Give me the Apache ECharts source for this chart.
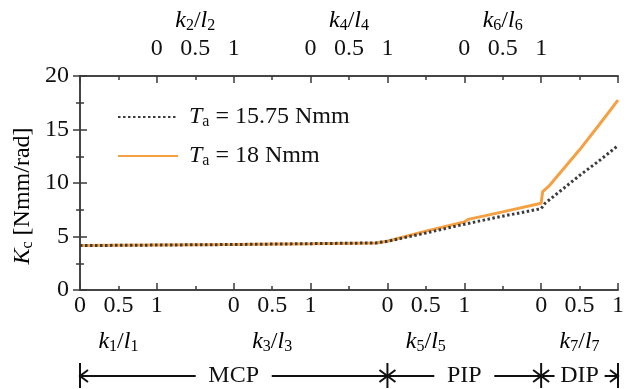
<!DOCTYPE html>
<html>
<head>
<meta charset="utf-8">
<script src="https://cdn.jsdelivr.net/npm/echarts@6/dist/echarts.min.js"></script>
<style>
  html, body { margin: 0; padding: 0; background: #fff; }
  #chart { width: 627px; height: 389px; }
</style>
</head>
<body>
<div id="chart"></div>
<script>
// data: x is the stacked normalized position k/l (0-7), y is Kc [Nmm/rad]
const xDotted = [0, 1, 2, 3, 3.85, 4, 4.5, 5, 5.5, 6, 6.05, 6.5, 6.75, 7];
const yDotted = [4.15, 4.2, 4.25, 4.33, 4.4, 4.55, 5.33, 6.15, 6.9, 7.6, 8.1, 10.7, 12.05, 13.5];
const xOrange = [0, 1, 2, 3, 3.85, 4, 4.5, 5, 5.05, 5.5, 6, 6.02, 6.1, 6.5, 6.75, 7];
const yOrange = [4.15, 4.2, 4.25, 4.33, 4.4, 4.55, 5.5, 6.35, 6.6, 7.3, 8.1, 9.2, 9.7, 13.1, 15.4, 17.75];
const seriesNames = ['15.75', '18'];
const bottomVars = [['1', 0.5], ['3', 2.5], ['5', 4.5], ['7', 6.5]];
const topVars = [['2', 1.5], ['4', 3.5], ['6', 5.5]];
const joints = [['MCP', 0, 4, 38], ['PIP', 4, 6, 30], ['DIP', 6, 7, 25]];

const FONT = 'Liberation Serif';
const AX = '#3a3a3a';
const FS = 24;

function pairs(xs, ys) {
  return xs.map((x, i) => [x, ys[i]]);
}

function bottomLabel(v) {
  const seg = Math.floor(v + 1e-9);
  if (seg % 2 === 0 && seg < 7) return String(+(v - seg).toFixed(1));
  if (Math.abs(v - Math.round(v)) < 1e-9 && Math.round(v) % 2 === 1) return '1';
  return '';
}
function topLabel(v) {
  const seg = Math.floor(v + 1e-9);
  if (seg % 2 === 1 && seg < 7) return String(+(v - seg).toFixed(1));
  if (Math.abs(v - Math.round(v)) < 1e-9 && Math.round(v) % 2 === 0 && v > 0) return '1';
  return '';
}

const richVar = {
  i: { fontFamily: FONT, fontStyle: 'italic', fontSize: FS, color: '#111' },
  s: { fontFamily: FONT, fontSize: 16, color: '#111', padding: [10, 0, 0, 0] },
  n: { fontFamily: FONT, fontSize: FS, color: '#111' }
};

const chart = echarts.init(document.getElementById('chart'));

function xAxisCfg(pos, interval, len, labelFn, margin) {
  return {
    type: 'value', position: pos, min: 0, max: 7, interval: interval,
    axisLine: { show: true, onZero: false, lineStyle: { color: AX, width: 1.5 } },
    axisTick: { show: true, inside: true, length: len, lineStyle: { color: AX, width: 1.5 } },
    axisLabel: labelFn ? {
      show: true, formatter: labelFn, margin: margin,
      fontFamily: FONT, fontSize: FS, color: '#111', showMinLabel: true, showMaxLabel: true
    } : { show: false },
    splitLine: { show: false }
  };
}

function yAxisCfg(pos, showLabel) {
  return {
    type: 'value', position: pos, min: 0, max: 20, interval: 5,
    axisLine: { show: true, lineStyle: { color: AX, width: 1.5 } },
    axisTick: { show: true, inside: true, length: 7, lineStyle: { color: AX, width: 1.5 } },
    minorTick: { show: true, splitNumber: 2, length: 4, lineStyle: { color: AX, width: 1.5 } },
    axisLabel: showLabel ? { margin: 11, fontFamily: FONT, fontSize: FS, color: '#111' } : { show: false },
    splitLine: { show: false }
  };
}

const option = {
  animation: false,
  backgroundColor: '#fff',
  grid: { left: 80, right: 6, top: 76, bottom: 99 },
  xAxis: [
    xAxisCfg('bottom', 0.5, 4, bottomLabel, 4),
    xAxisCfg('top', 0.5, 4, topLabel, 15),
    xAxisCfg('bottom', 1, 7, null, 0),
    xAxisCfg('top', 1, 7, null, 0)
  ],
  yAxis: [yAxisCfg('left', true), yAxisCfg('right', false)],
  legend: {
    orient: 'vertical', left: 112, top: 100, itemGap: 14,
    itemWidth: 60, itemHeight: 22,
    data: ['15.75', '18'],
    itemStyle: { opacity: 0 },
    formatter: name => '{i|T}{s|a}{n| = ' + name + ' Nmm}',
    textStyle: { padding: [0, 0, 0, 6], rich: richVar }
  },
  series: [
    {
      name: seriesNames[1], type: 'line', data: pairs(xOrange, yOrange),
      symbol: 'none', lineStyle: { color: '#F5A043', width: 3 }, itemStyle: { color: '#F5A043' }
    },
    {
      name: seriesNames[0], type: 'line', data: pairs(xDotted, yDotted),
      symbol: 'none', lineStyle: { color: '#3c3c3c', width: 3, type: [2.5, 2.5] }, itemStyle: { color: '#3c3c3c' }
    }
  ]
};
chart.setOption(option);

// annotations positioned through the axis scale
const px = v => chart.convertToPixel({ xAxisIndex: 0 }, v);
const g = [];
bottomVars.forEach(([n, x]) => {
  g.push({ type: 'text', x: px(x), y: 342, style: {
    text: '{i|k}{s|' + n + '}{n|/}{i|l}{s|' + n + '}', rich: richVar, align: 'center', verticalAlign: 'middle' } });
});
topVars.forEach(([n, x]) => {
  g.push({ type: 'text', x: px(x), y: 21, style: {
    text: '{i|k}{s|' + n + '}{n|/}{i|l}{s|' + n + '}', rich: richVar, align: 'center', verticalAlign: 'middle' } });
});
g.push({ type: 'text', x: 23, y: 196, rotation: Math.PI / 2, style: {
  text: '{i|K}{s|c}{n| [Nmm/rad]}', rich: richVar, align: 'center', verticalAlign: 'middle' } });

const ay = 376, head = 8, hw = 6;
const arrowStyle = { stroke: '#111', lineWidth: 2, fill: null };
joints.forEach(([name, a, b, half]) => {
  const xa = px(a), xb = px(b), xc = px((a + b) / 2);
  g.push({ type: 'text', x: xc, y: ay, style: { text: name, fontFamily: FONT, fontSize: FS, fill: '#111', align: 'center', verticalAlign: 'middle' } });
  g.push({ type: 'line', shape: { x1: xa, y1: ay, x2: xc - half, y2: ay }, style: arrowStyle });
  g.push({ type: 'line', shape: { x1: xc + half, y1: ay, x2: xb, y2: ay }, style: arrowStyle });
  g.push({ type: 'polyline', shape: { points: [[xa + head, ay - hw], [xa, ay], [xa + head, ay + hw]] }, style: arrowStyle });
  g.push({ type: 'polyline', shape: { points: [[xb - head, ay - hw], [xb, ay], [xb - head, ay + hw]] }, style: arrowStyle });
});
[0, 4, 6, 7].forEach(v => {
  g.push({ type: 'line', shape: { x1: px(v), y1: ay - 13, x2: px(v), y2: ay + 12 }, style: arrowStyle });
});
chart.setOption({ graphic: g });
</script>
</body>
</html>
